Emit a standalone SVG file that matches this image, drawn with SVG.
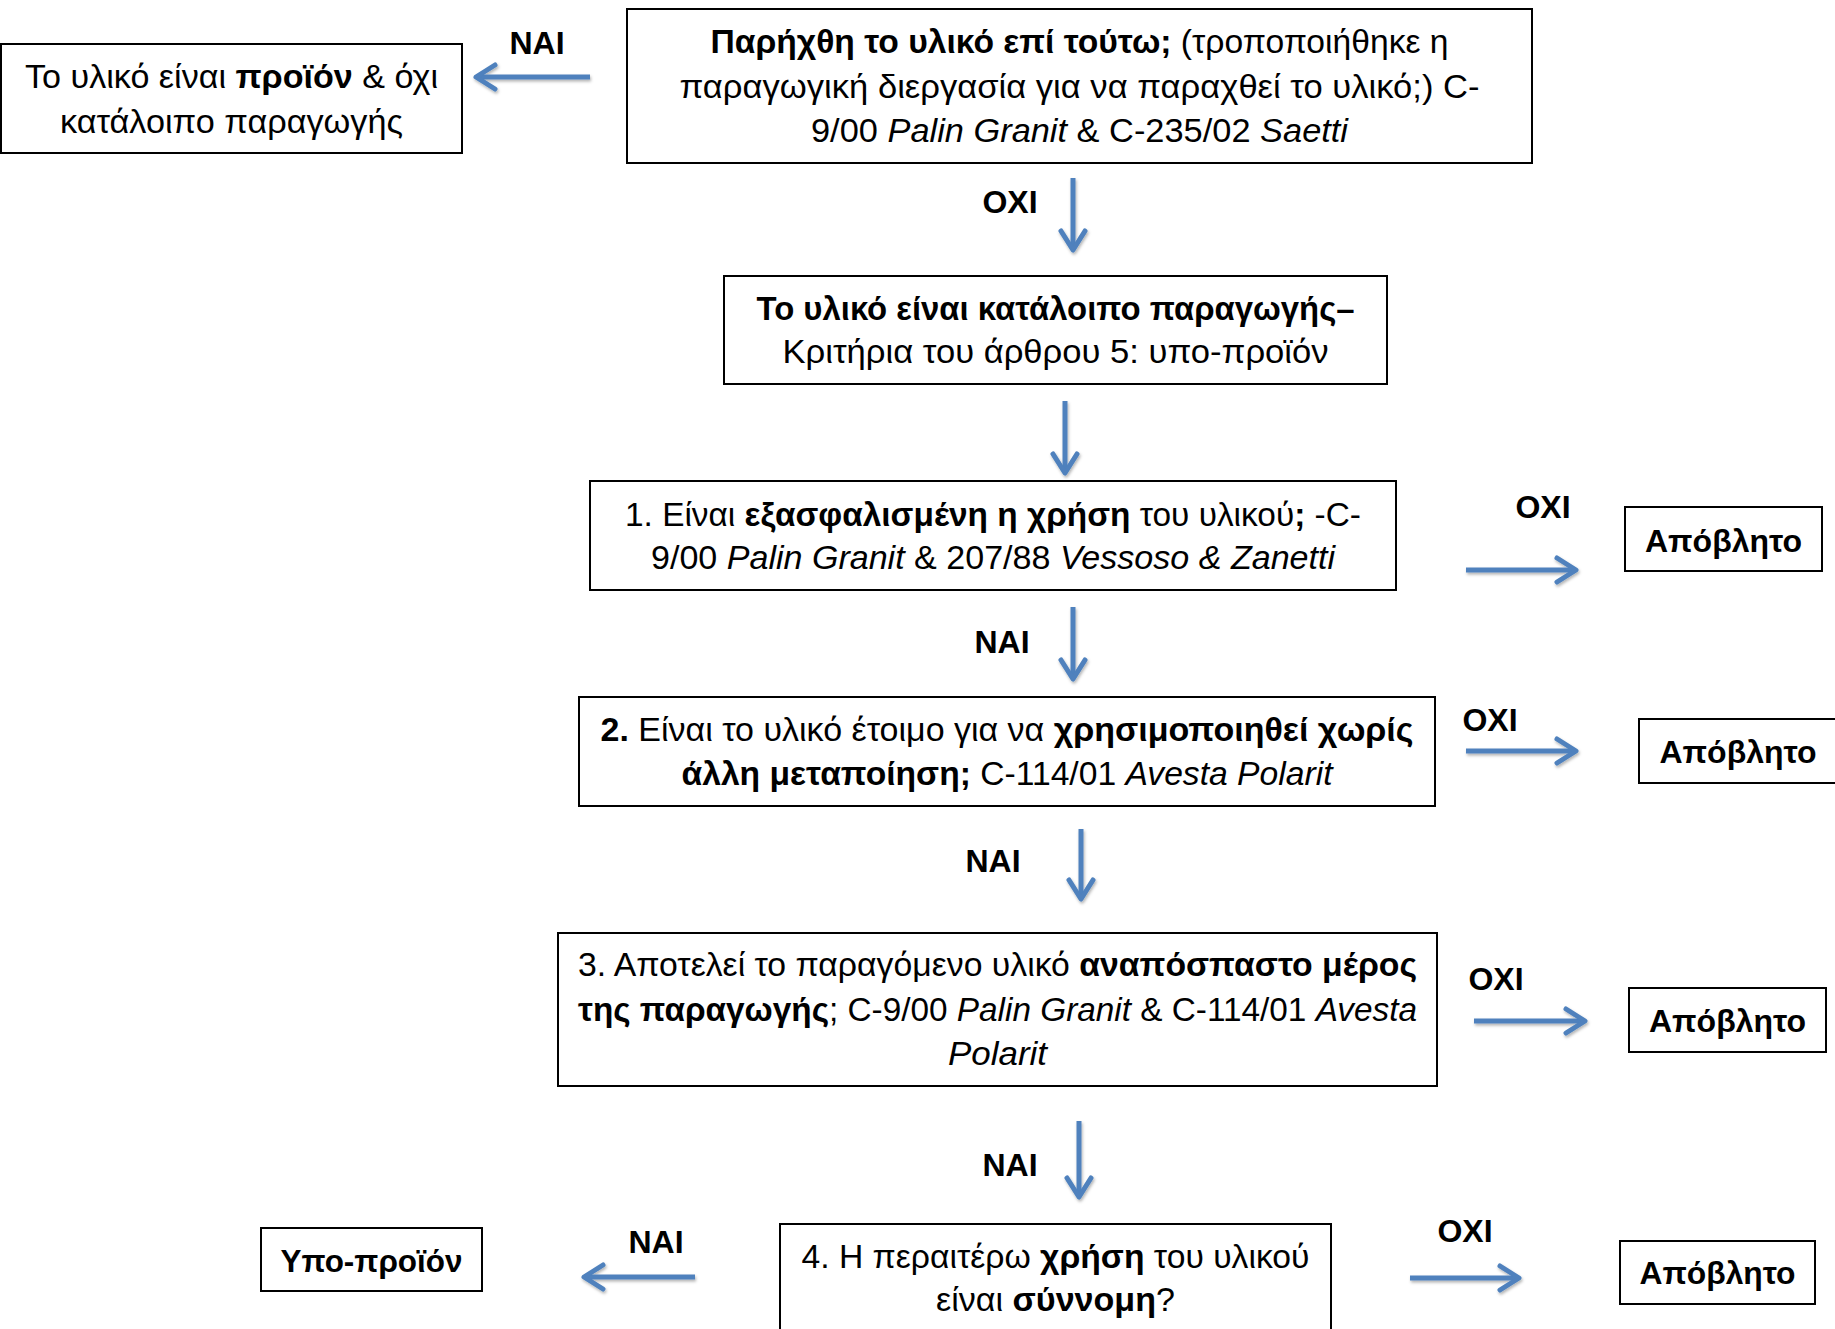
<svg xmlns="http://www.w3.org/2000/svg" width="1835" height="1329" viewBox="0 0 1835 1329">
<style>
.box{fill:#fff;stroke:#000;stroke-width:2}
.t{font-family:"Liberation Sans","Noto Sans",sans-serif;font-size:34px;fill:#000;text-anchor:middle}
.lb{font-family:"Liberation Sans","Noto Sans",sans-serif;font-size:32px;font-weight:bold;fill:#000;text-anchor:middle}
.b{font-weight:bold}
.i{font-style:italic}
.arr{stroke:#4F81BD;stroke-width:5;fill:none;marker-end:url(#ah)}
</style>
<defs>
<marker id="ah" markerUnits="userSpaceOnUse" markerWidth="30" markerHeight="30" refX="20" refY="14" orient="auto" overflow="visible">
<path d="M1,2 L20,14 L1,26" fill="none" stroke="#4F81BD" stroke-width="5" stroke-linecap="round" stroke-linejoin="round"/>
</marker>
<filter id="sh" filterUnits="userSpaceOnUse" x="0" y="0" width="1835" height="1329">
<feDropShadow dx="1" dy="2" stdDeviation="1.5" flood-color="#000" flood-opacity="0.3"/>
</filter>
</defs>

<g id="connectors" filter="url(#sh)">
<line class="arr" x1="590" y1="77" x2="476" y2="77"/>
<line class="arr" x1="1073" y1="178" x2="1073" y2="250"/>
<line class="arr" x1="1065" y1="401" x2="1065" y2="473"/>
<line class="arr" x1="1466" y1="570" x2="1576" y2="570"/>
<line class="arr" x1="1073" y1="607" x2="1073" y2="679"/>
<line class="arr" x1="1466" y1="751" x2="1576" y2="751"/>
<line class="arr" x1="1081" y1="829" x2="1081" y2="899"/>
<line class="arr" x1="1474" y1="1021" x2="1585" y2="1021"/>
<line class="arr" x1="1079" y1="1121" x2="1079" y2="1197"/>
<line class="arr" x1="695" y1="1277" x2="584" y2="1277"/>
<line class="arr" x1="1410" y1="1278" x2="1519" y2="1278"/>
</g>

<g id="labels">
<text class="lb" x="537" y="54">ΝΑΙ</text>
<text class="lb" x="1010" y="213">ΟΧΙ</text>
<text class="lb" x="1543" y="518">ΟΧΙ</text>
<text class="lb" x="1002" y="653">ΝΑΙ</text>
<text class="lb" x="1490" y="731">ΟΧΙ</text>
<text class="lb" x="993" y="872">ΝΑΙ</text>
<text class="lb" x="1496" y="990">ΟΧΙ</text>
<text class="lb" x="1010" y="1176">ΝΑΙ</text>
<text class="lb" x="656" y="1253">ΝΑΙ</text>
<text class="lb" x="1465" y="1242">ΟΧΙ</text>
</g>

<g id="product">
<rect class="box" x="1" y="44" width="461" height="109"/>
<text class="t" x="231.5" y="88" textLength="413" lengthAdjust="spacingAndGlyphs">Το υλικό είναι <tspan class="b">προϊόν</tspan> &amp; όχι</text>
<text class="t" x="231.5" y="133" textLength="343" lengthAdjust="spacingAndGlyphs">κατάλοιπο παραγωγής</text>
</g>

<g id="q0">
<rect class="box" x="627" y="9" width="905" height="154"/>
<text class="t" x="1079.5" y="53" textLength="738" lengthAdjust="spacingAndGlyphs"><tspan class="b">Παρήχθη το υλικό επί τούτω;</tspan> (τροποποιήθηκε η</text>
<text class="t" x="1079.5" y="98" textLength="800" lengthAdjust="spacingAndGlyphs">παραγωγική διεργασία για να παραχθεί το υλικό;) C-</text>
<text class="t" x="1079.5" y="142" textLength="537" lengthAdjust="spacingAndGlyphs">9/00 <tspan class="i">Palin Granit</tspan> &amp; C-235/02 <tspan class="i">Saetti</tspan></text>
</g>

<g id="residue">
<rect class="box" x="724" y="276" width="663" height="108"/>
<text class="t b" x="1055.5" y="320" textLength="598" lengthAdjust="spacingAndGlyphs">Το υλικό είναι κατάλοιπο παραγωγής–</text>
<text class="t" x="1055.5" y="363" textLength="546" lengthAdjust="spacingAndGlyphs">Κριτήρια του άρθρου 5: υπο-προϊόν</text>
</g>

<g id="q1">
<rect class="box" x="590" y="481" width="806" height="109"/>
<text class="t" x="993" y="526" textLength="736" lengthAdjust="spacingAndGlyphs">1. Είναι <tspan class="b">εξασφαλισμένη η χρήση</tspan> του υλικού<tspan class="b">;</tspan> -C-</text>
<text class="t" x="993" y="569" textLength="684" lengthAdjust="spacingAndGlyphs">9/00 <tspan class="i">Palin Granit</tspan> &amp; 207/88 <tspan class="i">Vessoso &amp; Zanetti</tspan></text>
</g>

<g id="q2">
<rect class="box" x="579" y="697" width="856" height="109"/>
<text class="t" x="1007" y="741" textLength="813" lengthAdjust="spacingAndGlyphs"><tspan class="b">2.</tspan> Είναι το υλικό έτοιμο για να <tspan class="b">χρησιμοποιηθεί χωρίς</tspan></text>
<text class="t" x="1007" y="785" textLength="651" lengthAdjust="spacingAndGlyphs"><tspan class="b">άλλη μεταποίηση;</tspan> C-114/01 <tspan class="i">Avesta Polarit</tspan></text>
</g>

<g id="q3">
<rect class="box" x="558" y="933" width="879" height="153"/>
<text class="t" x="997.5" y="976" textLength="839" lengthAdjust="spacingAndGlyphs">3. Αποτελεί το παραγόμενο υλικό <tspan class="b">αναπόσπαστο μέρος</tspan></text>
<text class="t" x="997.5" y="1021" textLength="839" lengthAdjust="spacingAndGlyphs"><tspan class="b">της παραγωγής</tspan>; C-9/00 <tspan class="i">Palin Granit</tspan> &amp; C-114/01 <tspan class="i">Avesta</tspan></text>
<text class="t i" x="997.5" y="1065" textLength="99" lengthAdjust="spacingAndGlyphs">Polarit</text>
</g>

<g id="q4">
<rect class="box" x="780" y="1224" width="551" height="130"/>
<text class="t" x="1055.5" y="1268" textLength="508" lengthAdjust="spacingAndGlyphs">4. Η περαιτέρω <tspan class="b">χρήση</tspan> του υλικού</text>
<text class="t" x="1055.5" y="1311" textLength="239" lengthAdjust="spacingAndGlyphs">είναι <tspan class="b">σύννομη</tspan>?</text>
</g>

<g id="waste1">
<rect class="box" x="1625" y="507" width="197" height="64"/>
<text class="lb" x="1723.5" y="552" textLength="157" lengthAdjust="spacingAndGlyphs">Απόβλητο</text>
</g>
<g id="waste2">
<rect class="box" x="1639" y="719" width="200" height="64"/>
<text class="lb" x="1738" y="763" textLength="157" lengthAdjust="spacingAndGlyphs">Απόβλητο</text>
</g>
<g id="waste3">
<rect class="box" x="1629" y="988" width="197" height="64"/>
<text class="lb" x="1727.5" y="1032" textLength="157" lengthAdjust="spacingAndGlyphs">Απόβλητο</text>
</g>
<g id="waste4">
<rect class="box" x="1620" y="1241" width="195" height="63"/>
<text class="lb" x="1717.5" y="1284" textLength="156" lengthAdjust="spacingAndGlyphs">Απόβλητο</text>
</g>

<g id="byproduct">
<rect class="box" x="261" y="1228" width="221" height="63"/>
<text class="lb" x="371.5" y="1272" textLength="182" lengthAdjust="spacingAndGlyphs">Υπο-προϊόν</text>
</g>
</svg>
